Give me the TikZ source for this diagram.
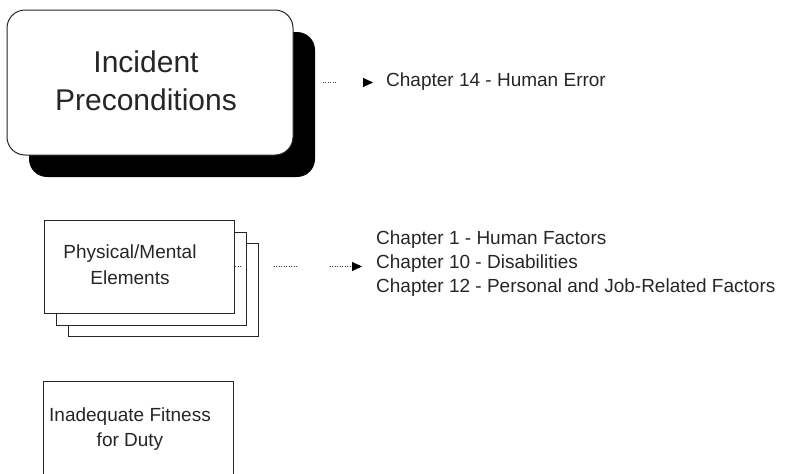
\documentclass[tikz,border=0pt]{standalone}
\usepackage{fontspec}
\setmainfont{Liberation Sans}
\usetikzlibrary{arrows.meta,shadows}

\begin{document}
\begin{tikzpicture}[x=1pt,y=-1pt,
  boxline/.style={draw=black!85, line width=1pt, fill=white, inner sep=0pt},
  bigbox/.style={boxline, rounded corners=18pt, minimum width=286pt, minimum height=145pt,
    drop shadow={shadow xshift=22pt, shadow yshift=-22pt, fill=black, opacity=1}},
  stackbox/.style={boxline, minimum width=190pt, minimum height=93pt},
  titletext/.style={font=\fontsize{30}{38}\selectfont, align=center, text=black!85, inner sep=0pt},
  boxtext/.style={font=\fontsize{19}{26}\selectfont, align=center, text=black!85, inner sep=0pt},
  reftext/.style={font=\fontsize{19}{24}\selectfont, align=left, anchor=west, text=black!85, inner sep=0pt},
  link/.style={draw=black!75, line width=1pt,
    -{Triangle[length=10pt,width=9pt,color=black]}},
  % short runs of fine dots separated by long gaps
  shortdots/.style={dash pattern=on 1pt off 1.5pt on 1pt off 1.5pt on 1pt off 1.5pt
    on 1pt off 1.5pt on 1pt off 1.5pt on 1pt off 30.5pt},
  longdots/.style={dash pattern=on 1pt off 1.5pt on 1pt off 1.5pt on 1pt off 1.5pt
    on 1pt off 1.5pt on 1pt off 1.5pt on 1pt off 1.5pt on 1pt off 1.5pt
    on 1pt off 1.5pt on 1pt off 1.5pt on 1pt off 32.5pt}
]
\useasboundingbox (0,0) rectangle (790,474);
\clip (0,0) rectangle (790,474);

% top level box with its drop shadow
\node[bigbox] (ip) at (150,82.5) {};
\node[titletext] (iptext) at (146,81) {Incident\\Preconditions};
\node[reftext] (ch14) at (386,82) {Chapter 14 - Human Error};
\draw[link, shortdots, dash phase=15pt, shorten >=13pt] (ip.east) -- (ip.east -| ch14.west);

% stacked group of element boxes
\node[stackbox] (pm3) at (163,290) {};
\node[stackbox] (pm2) at (151,278.5) {};
\node[stackbox] (pm) at (139,266.5) {};
\node[boxtext] (pmtext) at (130,265) {Physical/Mental\\Elements};
\node[reftext] (list) at (376,264) {Chapter 1 - Human Factors\\Chapter 10 - Disabilities\\Chapter 12 - Personal and Job-Related Factors};
\draw[link, longdots, dash phase=17pt, shorten >=14pt] (pm.east) -- (pm.east -| list.west);

% single box at the bottom, running past the lower edge
\node[boxline, minimum width=190pt, minimum height=120pt] (fit) at (138,441) {};
\node[boxtext, font=\fontsize{19}{25}\selectfont] (fittext) at (130,429.5) {Inadequate Fitness\\for Duty};
\end{tikzpicture}
\end{document}
